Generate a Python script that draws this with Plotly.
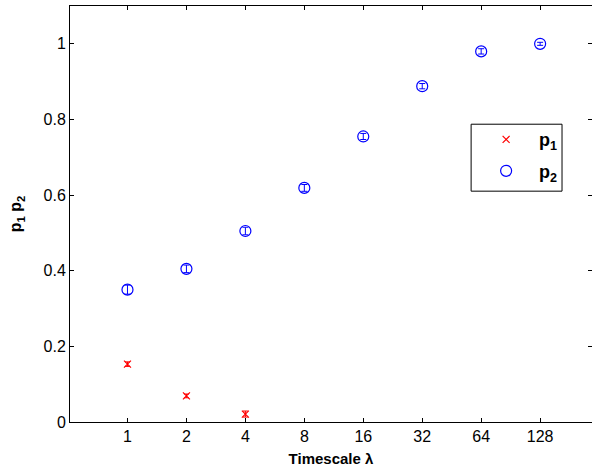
import plotly.graph_objects as go

timescales = ["1", "2", "4", "8", "16", "32", "64", "128"]
p1_values = [0.153, 0.069, 0.021]
p1_errors = [0.006, 0.005, 0.008]
p2_values = [0.350, 0.405, 0.505, 0.619, 0.755, 0.888, 0.980, 1.000]
p2_errors = [0.012, 0.010, 0.010, 0.009, 0.008, 0.007, 0.007, 0.004]

pos = list(range(1, len(timescales) + 1))

W, H = 592, 475
ml, mr, mt, mb = 69.5, 0, 5.7, 53
pw = W - ml - mr
ph = H - mt - mb

fig = go.Figure()
fig.add_trace(go.Scatter(
    x=pos[:len(p1_values)], y=p1_values, mode="markers",
    name="<b>p<sub>1</sub></b>", legendgroup="a",
    marker=dict(symbol="x-thin-open", size=7, color="red", line=dict(color="red", width=1.2)),
    error_y=dict(type="data", array=p1_errors, color="red", thickness=1, width=2.5),
))
fig.add_trace(go.Scatter(
    x=pos, y=p2_values, mode="markers",
    name="<b>p<sub>2</sub></b>", legendgroup="b",
    marker=dict(symbol="circle-open", size=11, color="blue", line=dict(color="blue", width=1.2)),
    error_y=dict(type="data", array=p2_errors, color="blue", thickness=1, width=3),
))

axis_common = dict(showline=True, linecolor="black", linewidth=1, mirror="ticks",
                   ticks="inside", ticklen=4, tickcolor="black", showgrid=False,
                   zeroline=False, tickfont=dict(family="Liberation Sans, Arial", size=16, color="black"))

fig.update_xaxes(range=[0.025, 8.88], tickvals=pos, ticktext=timescales,
                 title=dict(text="<b>Timescale λ</b>", font=dict(family="Liberation Sans, Arial", size=15, color="black"), standoff=9),
                 **axis_common)
fig.update_yaxes(range=[0, 1.1], tickvals=[0, 0.2, 0.4, 0.6, 0.8, 1.0], ticktext=["0", "0.2", "0.4", "0.6", "0.8", "1"],
                 title=dict(text="<b>p<sub>1</sub> p<sub>2</sub></b>", font=dict(family="Liberation Sans, Arial", size=16, color="black"), standoff=17),
                 **axis_common)

# legend box
bx0, bx1, by0, by1 = 471, 562, 124, 191
fig.add_shape(type="rect", xref="paper", yref="paper",
              x0=(bx0 - ml) / pw, x1=(bx1 - ml) / pw,
              y0=1 - (by0 - mt) / ph, y1=1 - (by1 - mt) / ph,
              line=dict(color="black", width=1), fillcolor="white", layer="below")

fig.update_layout(
    width=W, height=H,
    margin=dict(l=ml, r=mr, t=mt, b=mb),
    paper_bgcolor="white", plot_bgcolor="white",
    showlegend=True,
    legend=dict(x=(473 - ml) / pw, y=1 - (121 - mt) / ph, xanchor="left", yanchor="top",
                bgcolor="rgba(0,0,0,0)", borderwidth=0, itemwidth=56, traceorder="grouped",
                font=dict(family="Liberation Sans, Arial", size=18, color="black"),
                tracegroupgap=5),
)

fig.write_html("out.html")
